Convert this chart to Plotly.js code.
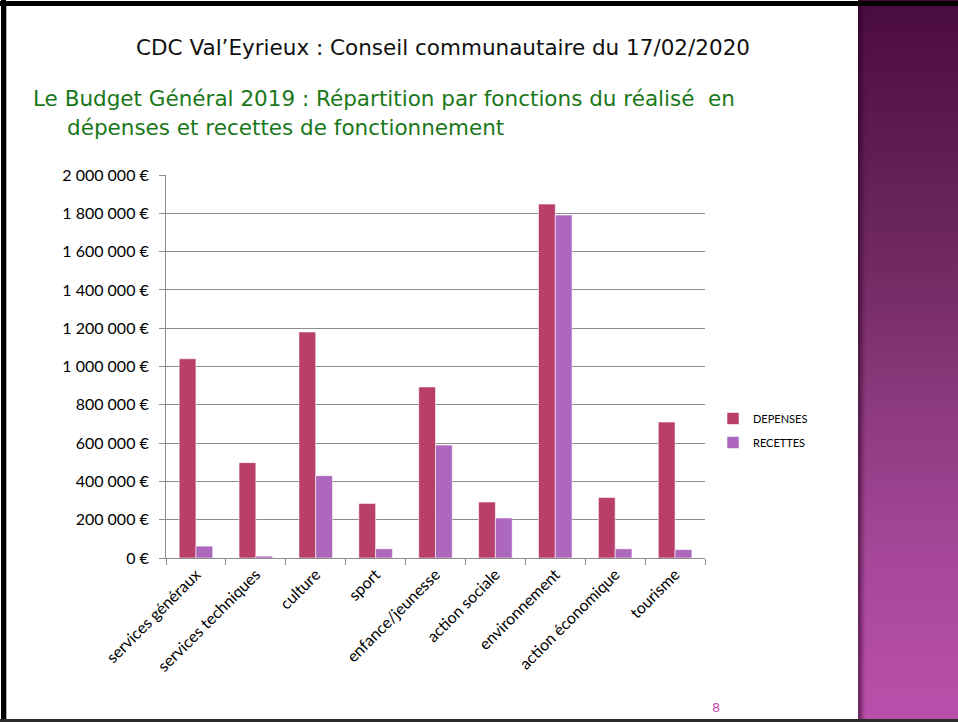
<!DOCTYPE html>
<html>
<head>
<meta charset="utf-8">
<script src="https://cdn.plot.ly/plotly-3.0.1.min.js"></script>
<style>
  html, body { margin: 0; padding: 0; background: #ffffff; }
  #wrap { position: relative; width: 958px; height: 722px; overflow: hidden; }
  #chart { position: absolute; left: 0; top: 0; width: 958px; height: 722px; }
  .deco { position: absolute; pointer-events: none; }
</style>
</head>
<body>
<div id="wrap">
  <div id="chart"></div>
  <div class="deco" style="left:858px; top:0; width:100px; height:722px;
       background: linear-gradient(to bottom, #4a0b3f 0%, #5c1a50 18%, #722a64 38%, #8e3b80 58%, #a7479a 78%, #ba4fab 100%);
       box-shadow: inset 5px 0 4px -1px rgba(40,0,30,0.55);"></div>
  <div class="deco" style="left:0; top:1px; width:958px; height:5px; background:#000;"></div>
  <div class="deco" style="left:1px; top:0; width:5px; height:722px; background:#000;"></div>
  <div class="deco" style="left:6px; top:6px; width:1px; height:713px; background:#b0b0b0;"></div>
  <div class="deco" style="left:0; top:719px; width:958px; height:3px; background:#2a2a2a;"></div>
</div>
<script>
// ---- data ----
const categories = ["services généraux", "services techniques", "culture", "sport",
  "enfance/jeunesse", "action sociale", "environnement", "action économique", "tourisme"];
const depenses = [1040000, 498000, 1180000, 285000, 893000, 292000, 1848000, 316000, 710000];
const recettes = [62000, 10000, 430000, 48000, 590000, 209000, 1791000, 48000, 44000];
const seriesNames = ["DEPENSES", "RECETTES"];
const yTickVals = [0, 200000, 400000, 600000, 800000, 1000000, 1200000, 1400000, 1600000, 1800000, 2000000];
const yTickText = ["0 €", "200 000 €", "400 000 €", "600 000 €", "800 000 €", "1 000 000 €",
  "1 200 000 €", "1 400 000 €", "1 600 000 €", "1 800 000 €", "2 000 000 €"];
const mainTitle = "CDC Val’Eyrieux : Conseil communautaire du 17/02/2020";
const subTitle1 = "Le Budget Général 2019 : Répartition par fonctions du réalisé  en";
const subTitle2 = "dépenses et recettes de fonctionnement";
const pageNumber = "8";

// ---- layout geometry ----
const W = 958, H = 722;
const L = 166, R = 705, T = 175, B = 558;
const px = x => (x - L) / (R - L);
const py = y => (B - y) / (B - T);

const lblFont = { family: "Lato, 'Open Sans', sans-serif", size: 16, color: "#000000" };

const traces = [
  { type: "bar", name: seriesNames[0], x: categories, y: depenses, legendgroup: "a",
    marker: { color: "#b93e6a", line: { color: "rgba(255,255,255,0.55)", width: 1 } } },
  { type: "bar", name: seriesNames[1], x: categories, y: recettes, legendgroup: "b",
    marker: { color: "#ad68be", line: { color: "rgba(255,255,255,0.55)", width: 1 } } }
];

const layout = {
  width: W, height: H,
  margin: { l: L, r: W - R, t: T, b: H - B, pad: 0 },
  paper_bgcolor: "#ffffff", plot_bgcolor: "#ffffff",
  barmode: "group", bargap: 0.44, bargroupgap: 0,
  showlegend: true,
  legend: { x: px(713), y: py(404), xanchor: "left", yanchor: "top",
    font: { family: "Lato, 'Open Sans', sans-serif", size: 11, color: "#000" },
    bgcolor: "rgba(0,0,0,0)", traceorder: "grouped", tracegroupgap: 5, itemwidth: 30 },
  title: { text: mainTitle, x: 443 / W, xanchor: "center", y: 1 - 47 / H, yanchor: "middle",
    font: { family: "'DejaVu Sans', sans-serif", size: 21.5, color: "#111111" } },
  xaxis: {
    type: "category", tickangle: -45, tickfont: lblFont,
    showline: true, linecolor: "#8c8c8c", linewidth: 1,
    ticks: "outside", tickson: "boundaries", ticklen: 6, tickcolor: "#8c8c8c",
    showgrid: false, zeroline: false, automargin: false
  },
  yaxis: {
    range: [0, 2000000], tickvals: yTickVals, ticktext: yTickText, tickfont: lblFont,
    showline: true, linecolor: "#8c8c8c", linewidth: 1,
    ticks: "outside", ticklen: 6, tickcolor: "#8c8c8c", ticklabelstandoff: 7,
    showgrid: true, gridcolor: "#8c8c8c", gridwidth: 1, zeroline: false, automargin: false
  },
  annotations: [
    { text: subTitle1, xref: "paper", yref: "paper", x: px(31), y: py(98),
      xanchor: "left", yanchor: "middle", showarrow: false,
      font: { family: "'DejaVu Sans', sans-serif", size: 21.5, color: "#1a781a" } },
    { text: subTitle2, xref: "paper", yref: "paper", x: px(65), y: py(127),
      xanchor: "left", yanchor: "middle", showarrow: false,
      font: { family: "'DejaVu Sans', sans-serif", size: 21.5, color: "#1a781a" } },
    { text: pageNumber, xref: "paper", yref: "paper", x: px(716), y: py(707),
      xanchor: "center", yanchor: "middle", showarrow: false,
      font: { family: "'DejaVu Sans', sans-serif", size: 13, color: "#c150b4" } }
  ]
};

Plotly.newPlot("chart", traces, layout, { displayModeBar: false, staticPlot: true });
</script>
</body>
</html>
